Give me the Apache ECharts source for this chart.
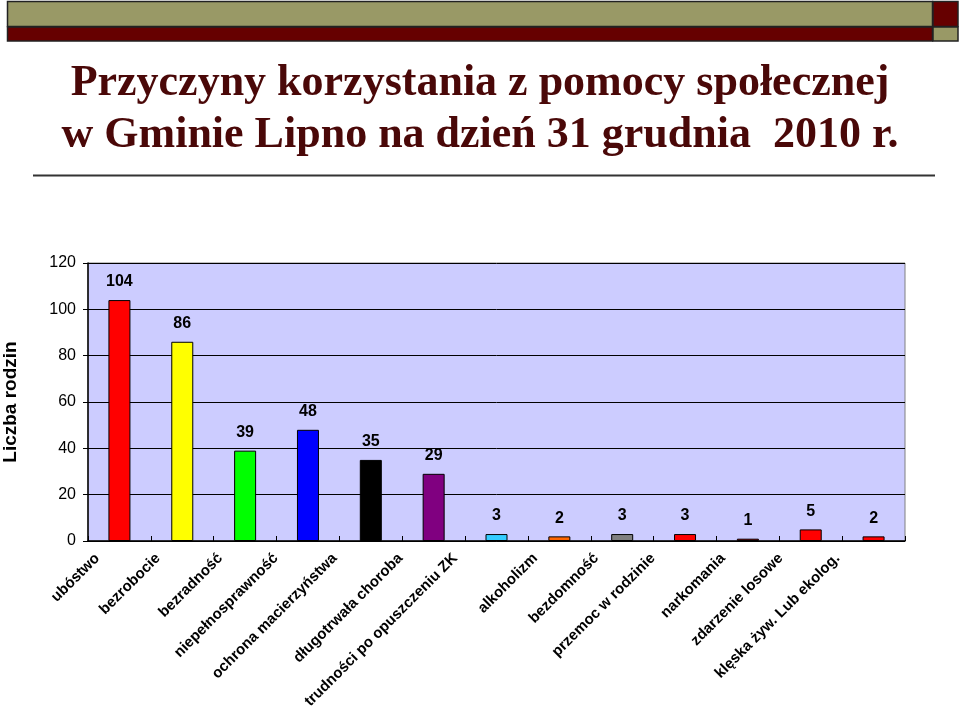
<!DOCTYPE html>
<html>
<head>
<meta charset="utf-8">
<script src="https://cdn.jsdelivr.net/npm/echarts@6/dist/echarts.min.js"></script>
<style>
html,body{margin:0;padding:0;background:#fff;}
#chart{width:960px;height:706px;}
</style>
</head>
<body>
<div id="chart"></div>
<script>
var titleLines = ['Przyczyny korzystania z pomocy społecznej', 'w Gminie Lipno na dzień 31 grudnia  2010 r.'];
var yAxisName = 'Liczba rodzin';
var categories = ['ubóstwo', 'bezrobocie', 'bezradność', 'niepełnosprawność', 'ochrona macierzyństwa', 'długotrwała choroba', 'trudności po opuszczeniu ZK', 'alkoholizm', 'bezdomność', 'przemoc w rodzinie', 'narkomania', 'zdarzenie losowe', 'klęska żyw. Lub ekolog.'];
var values = [104, 86, 39, 48, 35, 29, 3, 2, 3, 3, 1, 5, 2];
var barColors = ['#FF0000', '#FFFF00', '#00FF00', '#0000FF', '#000000', '#800080', '#33CCFF', '#FF6600', '#808080', '#FF0000', '#C00000', '#FF0000', '#FF0000'];
var yTicks = {min: 0, max: 120, interval: 20};

var labelFont = 'bold 15px "Liberation Sans", Arial, sans-serif';
var measureCtx = document.createElement('canvas').getContext('2d');
measureCtx.font = labelFont;
// Rotated labels are shifted left (Excel-like placement), more for longer texts.
var rich = {};
categories.forEach(function (c, i) {
  var w = measureCtx.measureText(c).width;
  var d = 14 + 0.13 * w;
  rich['r' + i] = {
    fontFamily: '"Liberation Sans", Arial, sans-serif', fontWeight: 'bold', fontSize: 15, color: '#000',
    padding: [0, 0.707 * d, 1.414 * d, 0]
  };
});

var chart = echarts.init(document.getElementById('chart'));
var seriesData = values.map(function (v, i) {
  return {value: v, itemStyle: {color: barColors[i]}};
});
chart.setOption({
  animation: false,
  backgroundColor: '#ffffff',
  graphic: [
    {type: 'rect', shape: {x: 7.5, y: 1.5, width: 925, height: 25}, style: {fill: '#999966', stroke: '#222', lineWidth: 1.5}},
    {type: 'rect', shape: {x: 933, y: 1.5, width: 25, height: 25}, style: {fill: '#660000', stroke: '#222', lineWidth: 1.5}},
    {type: 'rect', shape: {x: 7.5, y: 27, width: 925, height: 14}, style: {fill: '#660000', stroke: '#222', lineWidth: 1.5}},
    {type: 'rect', shape: {x: 933, y: 27, width: 25, height: 14}, style: {fill: '#999966', stroke: '#222', lineWidth: 1.5}},
    {type: 'line', shape: {x1: 33, y1: 175.5, x2: 935, y2: 175.5}, style: {stroke: '#333', lineWidth: 2}},
    {type: 'text', left: 'center', top: 62, style: {text: titleLines[0], font: 'bold 44px "Liberation Serif", "Times New Roman", serif', fill: '#4a0808'}},
    {type: 'text', left: 'center', top: 114, style: {text: titleLines[1], font: 'bold 44px "Liberation Serif", "Times New Roman", serif', fill: '#4a0808'}}
  ],
  grid: {left: 88, right: 55, top: 263, bottom: 165, outerBoundsMode: 'none', containLabel: false, show: true, backgroundColor: '#CCCCFF', borderColor: '#808080', borderWidth: 1},
  xAxis: {
    type: 'category',
    data: categories,
    axisLine: {lineStyle: {color: '#000', width: 1.5}},
    axisTick: {show: true, inside: true, length: 5, lineStyle: {color: '#000'}},
    axisLabel: {
      interval: 0, rotate: 45, margin: 15,
      fontFamily: '"Liberation Sans", Arial, sans-serif', fontWeight: 'bold', fontSize: 15, color: '#000',
      formatter: function (value, index) { return '{r' + index + '|' + value + '}'; },
      rich: rich
    }
  },
  yAxis: {
    type: 'value',
    min: yTicks.min, max: yTicks.max, interval: yTicks.interval,
    name: yAxisName, nameLocation: 'middle', nameRotate: 90, nameGap: 68,
    nameTextStyle: {fontFamily: '"Liberation Sans", Arial, sans-serif', fontWeight: 'bold', fontSize: 19, color: '#000'},
    axisLine: {show: true, lineStyle: {color: '#000', width: 1.5}},
    axisTick: {show: true, length: 5, lineStyle: {color: '#000'}},
    axisLabel: {margin: 12, fontFamily: '"Liberation Sans", Arial, sans-serif', fontSize: 16, color: '#000'},
    splitLine: {lineStyle: {color: '#000', width: 1}}
  },
  series: [{
    type: 'bar',
    data: seriesData,
    barWidth: 22,
    itemStyle: {borderColor: '#000', borderWidth: 1},
    label: {show: true, position: 'top', distance: 10, fontFamily: '"Liberation Sans", Arial, sans-serif', fontWeight: 'bold', fontSize: 16, color: '#000'}
  }]
});
</script>
</body>
</html>
